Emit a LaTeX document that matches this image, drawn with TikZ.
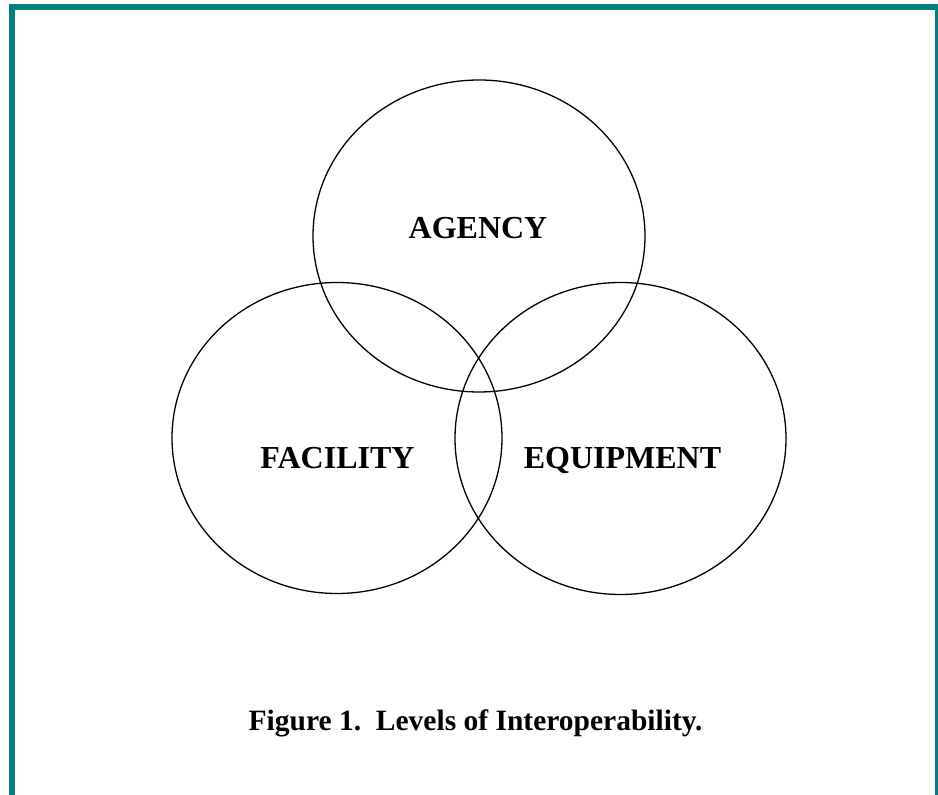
\documentclass[tikz,border=0pt]{standalone}
\usepackage{fontspec}
\setmainfont{Liberation Serif}
\usetikzlibrary{shapes.geometric}

\definecolor{frameteal}{RGB}{0,128,128}

\begin{document}
\begin{tikzpicture}[x=1pt,y=1pt,
    level/.style={ellipse,draw,line width=1.3pt,inner sep=0pt},
    levelname/.style={anchor=base,font=\fontsize{32}{38}\selectfont\bfseries}]
                    \useasboundingbox (0,0) rectangle (938,795);
                    \draw[frameteal,line width=6pt,line join=miter] (12,-10) -- (12,788) -- (938,788) -- (938,-10);

                    \path
                    (479,559) node[level,minimum width=332pt,minimum height=312pt](agency) {}
                    (337,357) node[level,minimum width=330pt,minimum height=311pt](facility) {}
                    (620.5,356.5) node[level,minimum width=331pt,minimum height=312pt](equipment) {};

                    \path
                    (478,556) node[levelname](agencyname) {AGENCY}
                    (337.5,326) node[levelname](facilityname) {FACILITY}
                    (622.5,326) node[levelname](equipmentname) {EQUIPMENT}
                    (475.5,64) node[anchor=base,font=\fontsize{29.5}{35}\selectfont\bfseries](caption) {Figure 1.\ \ Levels of Interoperability.};
                \end{tikzpicture}
\end{document}
